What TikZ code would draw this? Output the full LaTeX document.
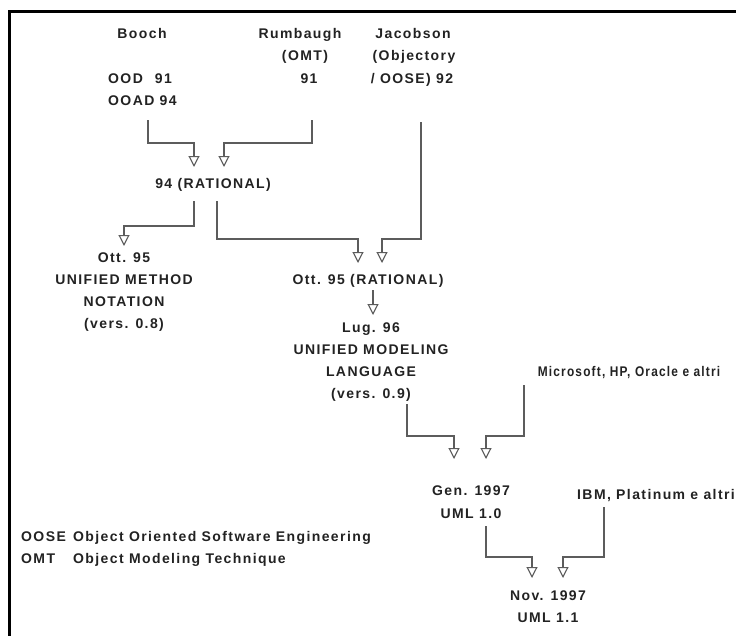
\documentclass[tikz,border=0pt]{standalone}
\usepackage{fontspec}
\setmainfont{Liberation Sans}[LetterSpace=10]
\usetikzlibrary{arrows.meta}
\definecolor{ink}{HTML}{222222}
\definecolor{wire}{HTML}{5C5C5C}
\begin{document}
\begin{tikzpicture}[x=1pt,y=-1pt,
  lbl/.style={font=\fontsize{14}{16}\selectfont\bfseries, text=ink,
    inner sep=0pt, text height=10pt, text depth=0pt},
  conn/.style={draw=wire, line width=1.2pt,
    -{Triangle[width=11pt, length=11pt, fill=white, line width=1.1pt]}},
  frameline/.style={line width=3pt, black}]
\useasboundingbox (0,0) rectangle (736,635);

% page frame (left and top rules)
\draw[frameline] (9.5,637) -- (9.5,11) -- (738,11);

% authors and their methods
\node[lbl] (booch) at (142,33) {Booch};
\node[lbl] (rumb)  at (300,33) {Rumbaugh};
\node[lbl] (omt)   at (305,55) {(OMT)};
\node[lbl] (jac)   at (413,33) {Jacobson};
\node[lbl] (objy)  at (414,55) {(Objectory};
\node[lbl, anchor=west] (ood)  at (108,78)  {OOD\hspace{12pt}91};
\node[lbl]              (r91)  at (309,78)  {91};
\node[lbl]              (j92)  at (412,78)  {/ OOSE) 92};
\node[lbl, anchor=west] (ooad) at (108,100) {OOAD 94};

% 1994 merge
\node[lbl] (rat94) at (213,183) {94 (RATIONAL)};

% October 1995
\node[lbl] (umn1) at (124,257) {Ott. 95};
\node[lbl] (umn2) at (124,279) {UNIFIED METHOD};
\node[lbl] (umn3) at (124,301) {NOTATION};
\node[lbl] (umn4) at (124,323) {(vers. 0.8)};
\node[lbl] (rat95) at (368,279) {Ott. 95 (RATIONAL)};

% June 1996
\node[lbl] (uml1) at (371,327) {Lug. 96};
\node[lbl] (uml2) at (371,349) {UNIFIED MODELING};
\node[lbl] (uml3) at (371,371) {LANGUAGE};
\node[lbl] (uml4) at (371,393) {(vers. 0.9)};
\node[lbl] (msft) at (629,371) {\scalebox{0.85}[1]{Microsoft, HP, Oracle e altri}};

% 1997 releases
\node[lbl] (gen1) at (471,490) {Gen. 1997};
\node[lbl] (gen2) at (471,513) {UML 1.0};
\node[lbl, anchor=west] (ibm) at (577,494) {IBM, Platinum e altri};
\node[lbl] (nov1) at (548,595) {Nov. 1997};
\node[lbl] (nov2) at (548,617) {UML 1.1};

% abbreviations
\node[lbl, anchor=west] (k1) at (21,536) {OOSE};
\node[lbl, anchor=west] (v1) at (73,536) {Object Oriented Software Engineering};
\node[lbl, anchor=west] (k2) at (21,558) {OMT};
\node[lbl, anchor=west] (v2) at (73,558) {Object Modeling Technique};

% connector end points
\coordinate (boochOut) at (148,120);
\coordinate (rumbOut)  at (312,120);
\coordinate (jacOut)   at (421,122);
\coordinate (rat94in1) at (194,167);
\coordinate (rat94in2) at (224,167);
\coordinate (rat94outL) at (194,201);
\coordinate (rat94outR) at (217,201);
\coordinate (umnIn)    at (124,246);
\coordinate (rat95in1) at (358,263);
\coordinate (rat95in2) at (382,263);
\coordinate (rat95out) at (373,290);
\coordinate (umlIn)    at (373,315);
\coordinate (umlOut)   at (407,404);
\coordinate (msftOut)  at (524,385);
\coordinate (genIn1)   at (454,459);
\coordinate (genIn2)   at (486,459);
\coordinate (genOut)   at (486,526);
\coordinate (ibmOut)   at (604,507);
\coordinate (novIn1)   at (532,578);
\coordinate (novIn2)   at (563,578);

% connectors
\draw[conn] (boochOut) -- ++(0,23) -| (rat94in1);
\draw[conn] (rumbOut)  -- ++(0,23) -| (rat94in2);
\draw[conn] (rat94outL) -- ++(0,25) -| (umnIn);
\draw[conn] (rat94outR) -- ++(0,38) -| (rat95in1);
\draw[conn] (jacOut)   -- ++(0,117) -| (rat95in2);
\draw[conn] (rat95out) -- (umlIn);
\draw[conn] (umlOut)   -- ++(0,32) -| (genIn1);
\draw[conn] (msftOut)  -- ++(0,51) -| (genIn2);
\draw[conn] (genOut)   -- ++(0,31) -| (novIn1);
\draw[conn] (ibmOut)   -- ++(0,50) -| (novIn2);
\end{tikzpicture}
\end{document}
